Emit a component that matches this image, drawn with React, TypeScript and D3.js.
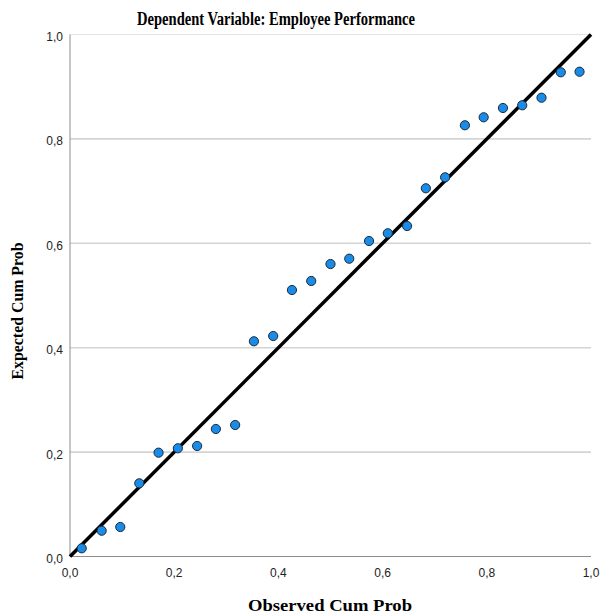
import React from "react";
import * as d3 from "d3";

const observed = [0.0225, 0.0608, 0.0965, 0.133, 0.170, 0.207, 0.244, 0.280, 0.317, 0.353, 0.390, 0.426, 0.463, 0.500, 0.536, 0.574, 0.610, 0.647, 0.683, 0.720, 0.758, 0.794, 0.831, 0.868, 0.905, 0.942, 0.978];
const expected = [0.0157, 0.0494, 0.0565, 0.1402, 0.1989, 0.2073, 0.2117, 0.2443, 0.2519, 0.4123, 0.4224, 0.5105, 0.5278, 0.5603, 0.5705, 0.6044, 0.6192, 0.6331, 0.7054, 0.7264, 0.8261, 0.8414, 0.8592, 0.8644, 0.8789, 0.9276, 0.9287];
const ticks = [0, 0.2, 0.4, 0.6, 0.8, 1.0];
const tickLabels = ["0,0", "0,2", "0,4", "0,6", "0,8", "1,0"];
const diagonal = [0, 1];

const title = "Dependent Variable: Employee Performance";
const xTitle = "Observed Cum Prob";
const yTitle = "Expected Cum Prob";

export default function App() {
  const W = 604, H = 616;
  const x = d3.scaleLinear().domain([0, 1]).range([70, 591]);
  const y = d3.scaleLinear().domain([0, 1]).range([556.5, 34.5]);
  const line = d3.line<number>().x((d) => x(d)).y((d) => y(d));
  const sans = "'Liberation Sans', Arial, sans-serif";
  const serif = "'Liberation Serif', 'Times New Roman', serif";
  return (
    <>
      <style>{`body{margin:0}`}</style>
      <svg width={W} height={H} style={{ display: "block", background: "#fff" }}>
        {ticks.slice(1).map((t, i) => (
          <line key={"g" + i} x1={x(0)} x2={x(1)} y1={y(t)} y2={y(t)}
            stroke={t === 1 ? "#e3e3e3" : "#d4d4d4"} strokeWidth={t === 1 ? 1 : 1.6} />
        ))}
        <line x1={x(0)} x2={x(0)} y1={y(0)} y2={y(1)} stroke="#8c8c8c" strokeWidth={1} />
        <line x1={x(0)} x2={x(1)} y1={y(0)} y2={y(0)} stroke="#8c8c8c" strokeWidth={1} />
        {ticks.map((t, i) => (
          <text key={"yl" + i} x={63} y={y(t) + 6.5} textAnchor="end" fontFamily={sans} fontSize={12} fill="#222">
            {tickLabels[i]}
          </text>
        ))}
        {ticks.map((t, i) => (
          <text key={"xl" + i} x={x(t)} y={577} textAnchor="middle" fontFamily={sans} fontSize={12} fill="#222">
            {tickLabels[i]}
          </text>
        ))}
        <path d={line(diagonal) || ""} stroke="#000" strokeWidth={3.5} fill="none" />
        {observed.map((o, i) => (
          <circle key={"p" + i} cx={x(o)} cy={y(expected[i])} r={4.6} fill="#1a8be6" stroke="#1a2a3a" strokeWidth={1} />
        ))}
        <text x={276} y={25} textAnchor="middle" fontFamily={serif} fontWeight="bold" fontSize={18}
          textLength={278} lengthAdjust="spacingAndGlyphs" fill="#000">{title}</text>
        <text x={330} y={611} textAnchor="middle" fontFamily={serif} fontWeight="bold" fontSize={17}
          textLength={164} lengthAdjust="spacingAndGlyphs" fill="#000">{xTitle}</text>
        <text transform={`translate(23,311) rotate(-90)`} textAnchor="middle" fontFamily={serif} fontWeight="bold" fontSize={17}
          textLength={137} lengthAdjust="spacingAndGlyphs" fill="#000">{yTitle}</text>
      </svg>
    </>
  );
}
